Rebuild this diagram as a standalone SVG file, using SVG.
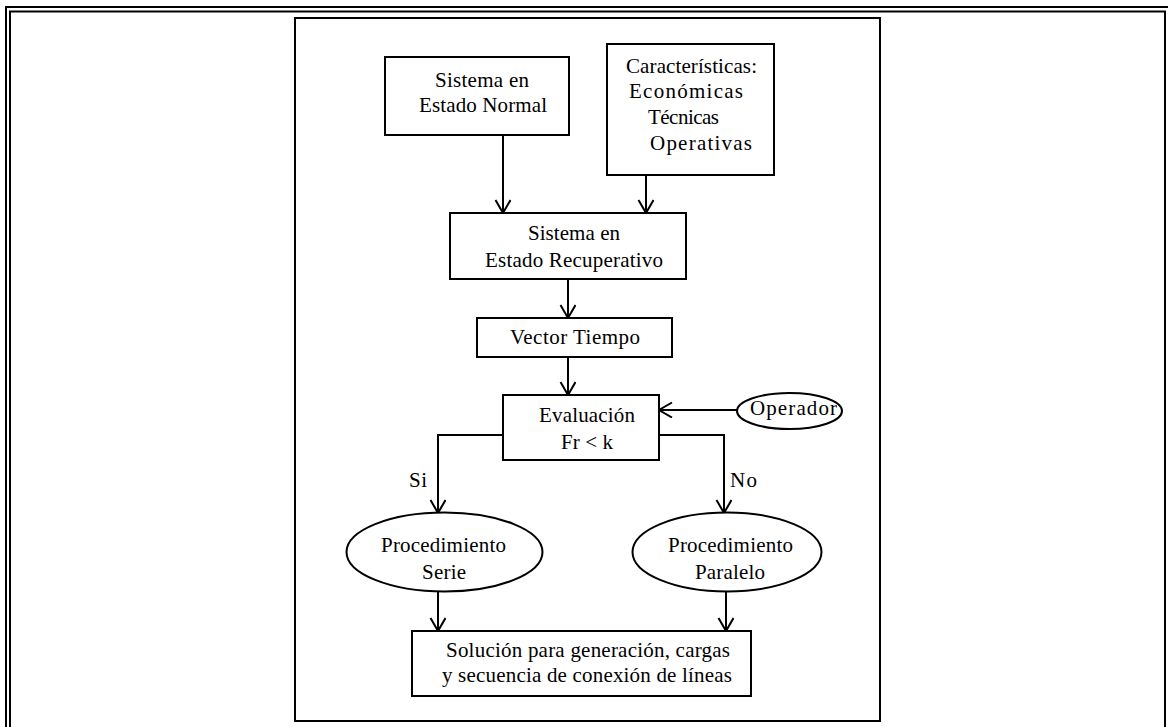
<svg xmlns="http://www.w3.org/2000/svg" width="1168" height="727" viewBox="0 0 1168 727">
  <style>
    .frame { fill: none; stroke: #000; stroke-width: 2; }
    .box { fill: #fff; stroke: #000; stroke-width: 2; }
    .edge { fill: none; stroke: #000; stroke-width: 2; }
  </style>
  <defs>
    <marker id="arrow" markerUnits="userSpaceOnUse" markerWidth="20" markerHeight="20" refX="14" refY="8" orient="auto">
      <path d="M1,0.5 L14,8 L1,15.5" fill="none" stroke="#000" stroke-width="2"/>
    </marker>
  </defs>

  <rect width="1168" height="727" fill="#fff"/>

  <!-- double page border -->
  <g id="page-border">
    <rect class="frame" x="6" y="7" width="1163" height="800"/>
    <rect class="frame" x="10" y="11.5" width="1155" height="800"/>
  </g>

  <!-- figure frame -->
  <rect id="figure-frame" class="frame" x="295" y="18" width="585" height="703"/>

  <g font-family="'Liberation Serif', 'Times New Roman', Times, serif" font-size="21" fill="#000" lengthAdjust="spacing">
  <!-- connectors -->
  <g id="connectors">
    <line class="edge" x1="503" y1="135" x2="503" y2="213" marker-end="url(#arrow)"/>
    <line class="edge" x1="646" y1="175" x2="646" y2="213" marker-end="url(#arrow)"/>
    <line class="edge" x1="568" y1="279" x2="568" y2="318" marker-end="url(#arrow)"/>
    <line class="edge" x1="568" y1="357" x2="568" y2="395" marker-end="url(#arrow)"/>
    <line class="edge" x1="737" y1="410" x2="659" y2="410" marker-end="url(#arrow)"/>
    <polyline class="edge" points="503,435 438,435 438,513" marker-end="url(#arrow)"/>
    <polyline class="edge" points="659,435 724,435 724,513" marker-end="url(#arrow)"/>
    <line class="edge" x1="438" y1="592" x2="438" y2="631" marker-end="url(#arrow)"/>
    <line class="edge" x1="726" y1="592" x2="726" y2="631" marker-end="url(#arrow)"/>
    <text x="409" y="487" textLength="18" lengthAdjust="spacing">Si</text>
    <text x="730" y="487" textLength="27" lengthAdjust="spacing">No</text>
  </g>

  <g id="sistema-normal">
    <rect class="box" x="385" y="57" width="184" height="78"/>
    <text x="435" y="87" textLength="94" lengthAdjust="spacing">Sistema en</text>
    <text x="419" y="112" textLength="128" lengthAdjust="spacing">Estado Normal</text>
  </g>

  <g id="caracteristicas">
    <rect class="box" x="607" y="44" width="167" height="131"/>
    <text x="626" y="72.5" textLength="131" lengthAdjust="spacing">Características:</text>
    <text x="629" y="98" textLength="114" lengthAdjust="spacing">Económicas</text>
    <text x="648" y="124" textLength="71" lengthAdjust="spacing">Técnicas</text>
    <text x="650" y="149.5" textLength="102" lengthAdjust="spacing">Operativas</text>
  </g>

  <g id="sistema-recuperativo">
    <rect class="box" x="450" y="213" width="236" height="66"/>
    <text x="528" y="240" textLength="92" lengthAdjust="spacing">Sistema en</text>
    <text x="485" y="266.5" textLength="178" lengthAdjust="spacing">Estado Recuperativo</text>
  </g>

  <g id="vector-tiempo">
    <rect class="box" x="477" y="318" width="195" height="39"/>
    <text x="510" y="343.5" textLength="130" lengthAdjust="spacing">Vector Tiempo</text>
  </g>

  <g id="evaluacion">
    <rect class="box" x="503" y="395" width="156" height="65"/>
    <text x="539" y="421.5" textLength="96" lengthAdjust="spacing">Evaluación</text>
    <text x="561" y="448.5" textLength="52" lengthAdjust="spacing">Fr &lt; k</text>
  </g>

  <g id="operador">
    <ellipse class="box" cx="789.5" cy="411" rx="52.5" ry="18"/>
    <text x="750" y="415" textLength="87" lengthAdjust="spacing">Operador</text>
  </g>

  <g id="procedimiento-serie">
    <ellipse class="box" cx="444.5" cy="552" rx="98" ry="39.5"/>
    <text x="381" y="552" textLength="125" lengthAdjust="spacing">Procedimiento</text>
    <text x="422" y="578.5" textLength="44" lengthAdjust="spacing">Serie</text>
  </g>

  <g id="procedimiento-paralelo">
    <ellipse class="box" cx="727" cy="552" rx="94.5" ry="39.5"/>
    <text x="668" y="552" textLength="125" lengthAdjust="spacing">Procedimiento</text>
    <text x="695" y="578.5" textLength="70" lengthAdjust="spacing">Paralelo</text>
  </g>

  <g id="solucion">
    <rect class="box" x="412" y="631" width="339" height="65"/>
    <text x="446" y="656.5" textLength="284" lengthAdjust="spacing">Solución para generación, cargas</text>
    <text x="442" y="681.5" textLength="290" lengthAdjust="spacing">y secuencia de conexión de líneas</text>
  </g>
  </g>
</svg>
